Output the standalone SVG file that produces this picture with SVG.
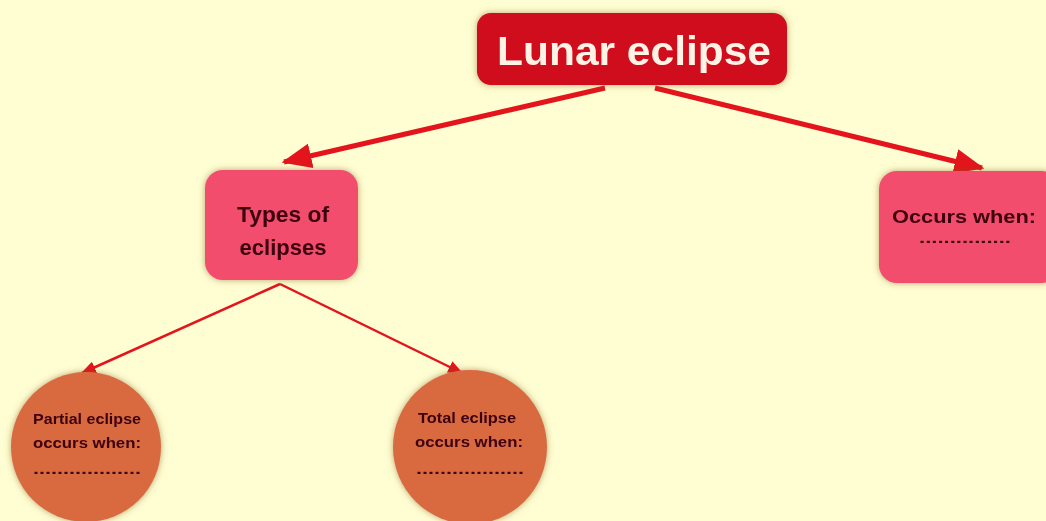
<svg xmlns="http://www.w3.org/2000/svg" width="1046" height="521" viewBox="0 0 1046 521">
<defs>
<style>
.bg{fill:#fffdd2}
.main{fill:#d0091a}
.box{fill:#f24d6d}
.circ{fill:#d96b40}
.t{font-family:"Liberation Sans",Arial,sans-serif;font-weight:bold;text-anchor:middle;fill:#3d0010}
.conn{stroke:#e4141c;fill:none}
</style>
<filter id="sh" x="-20%" y="-20%" width="140%" height="140%">
<feGaussianBlur in="SourceAlpha" stdDeviation="3"/>
<feOffset dx="0" dy="0" result="b"/>
<feFlood flood-color="#7a5a20" flood-opacity="0.55"/>
<feComposite in2="b" operator="in"/>
<feMerge><feMergeNode/><feMergeNode in="SourceGraphic"/></feMerge>
</filter>
<marker id="ab" markerWidth="6" markerHeight="5" refX="5.5" refY="2.5" orient="auto" markerUnits="strokeWidth">
<path d="M0,0 L6,2.5 L0,5 Z" fill="#e4141c"/>
</marker>
<marker id="as" markerWidth="6" markerHeight="5" refX="5.5" refY="2.5" orient="auto" markerUnits="strokeWidth">
<path d="M0,0 L6,2.5 L0,5 Z" fill="#e4141c"/>
</marker>
</defs>
<rect class="bg" x="0" y="0" width="1046" height="521"/>
<g id="connectors">
<line class="conn" x1="605" y1="88" x2="284" y2="162" stroke-width="5" marker-end="url(#ab)"/>
<line class="conn" x1="655" y1="88" x2="982" y2="168" stroke-width="5" marker-end="url(#ab)"/>
<line class="conn" x1="280" y1="284" x2="82" y2="373" stroke-width="2.5" marker-end="url(#as)"/>
<line class="conn" x1="280" y1="284" x2="462" y2="373" stroke-width="2.5" marker-end="url(#as)"/>
</g>
<g id="lunar-eclipse" filter="url(#sh)">
<rect class="main" x="477" y="13" width="310" height="72" rx="14"/>
<text x="634" y="65" font-family="Liberation Sans,Arial,sans-serif" font-weight="bold" font-size="40" text-anchor="middle" fill="#fff3e6" textLength="274" lengthAdjust="spacingAndGlyphs">Lunar eclipse</text>
</g>
<g id="types-of-eclipses" filter="url(#sh)">
<rect class="box" x="205" y="170" width="153" height="110" rx="18"/>
<text class="t" x="283" y="222" font-size="22" textLength="92" lengthAdjust="spacingAndGlyphs">Types of</text>
<text class="t" x="283" y="255" font-size="22">eclipses</text>
</g>
<g id="occurs-when" filter="url(#sh)">
<rect class="box" x="879" y="171" width="180" height="112" rx="18"/>
<text class="t" x="964" y="223" font-size="19" textLength="144" lengthAdjust="spacingAndGlyphs">Occurs when:</text>
<text class="t" x="965" y="243" font-size="14" textLength="92" lengthAdjust="spacingAndGlyphs">...............</text>
</g>
<g id="partial-eclipse" filter="url(#sh)">
<circle class="circ" cx="86" cy="447" r="75"/>
<text class="t" x="87" y="424" font-size="15" textLength="108" lengthAdjust="spacingAndGlyphs">Partial eclipse</text>
<text class="t" x="87" y="448" font-size="15" textLength="108" lengthAdjust="spacingAndGlyphs">occurs when:</text>
<text class="t" x="87" y="474" font-size="14" textLength="108" lengthAdjust="spacingAndGlyphs">..................</text>
</g>
<g id="total-eclipse" filter="url(#sh)">
<circle class="circ" cx="470" cy="447" r="77"/>
<text class="t" x="467" y="423" font-size="15" textLength="98" lengthAdjust="spacingAndGlyphs">Total eclipse</text>
<text class="t" x="469" y="447" font-size="15" textLength="108" lengthAdjust="spacingAndGlyphs">occurs when:</text>
<text class="t" x="470" y="474" font-size="14" textLength="108" lengthAdjust="spacingAndGlyphs">..................</text>
</g>
</svg>
